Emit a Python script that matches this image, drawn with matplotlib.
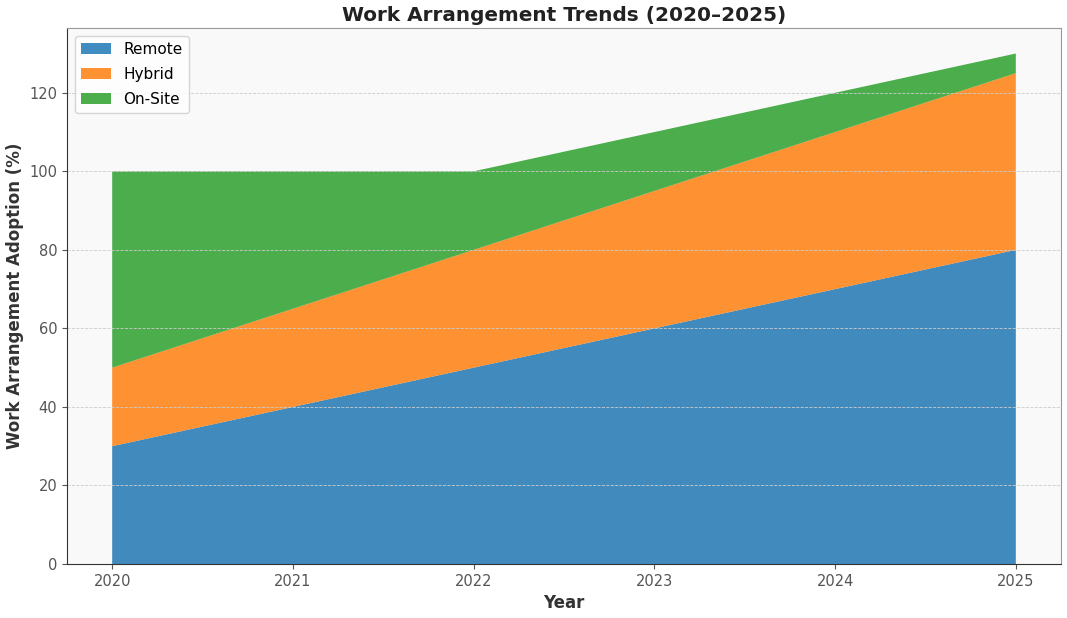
import matplotlib
matplotlib.use("Agg")
import matplotlib.pyplot as plt

years = [2020, 2021, 2022, 2023, 2024, 2025]
remote = [30, 40, 50, 60, 70, 80]
hybrid = [20, 25, 30, 35, 40, 45]
onsite = [50, 35, 20, 15, 10, 5]
labels = ["Remote", "Hybrid", "On-Site"]
colors = ["#1f77b4", "#ff7f0e", "#2ca02c"]

fig = plt.figure(figsize=(10.67, 6.18), dpi=100)
ax = fig.add_axes([67/1067, 1-564/618, (1061-67)/1067, (564-28)/618])
ax.set_facecolor("#f9f9f9")
ax.stackplot(years, remote, hybrid, onsite, labels=labels, colors=colors, alpha=0.85)
ax.set_title("Work Arrangement Trends (2020\u20132025)", fontsize=14.4, fontweight="bold", color="#222222", pad=5)
ax.set_xlabel("Year", fontsize=12, fontweight="bold", color="#333333")
ax.set_ylabel("Work Arrangement Adoption (%)", fontsize=12, fontweight="bold", color="#333333")
ax.set_xticks(years)
ax.tick_params(colors="#555555", labelsize=10.5)
ax.grid(axis="y", linestyle="--", linewidth=0.6, color="#cccccc")
for s in ["top", "right"]:
    ax.spines[s].set_color("#999999")
for s in ["left", "bottom"]:
    ax.spines[s].set_color("#333333")
ax.set_ylim(0, 136.5)
ax.legend(loc="upper left", fontsize=11, labelspacing=0.65)
fig.savefig("out.png", dpi=100)
